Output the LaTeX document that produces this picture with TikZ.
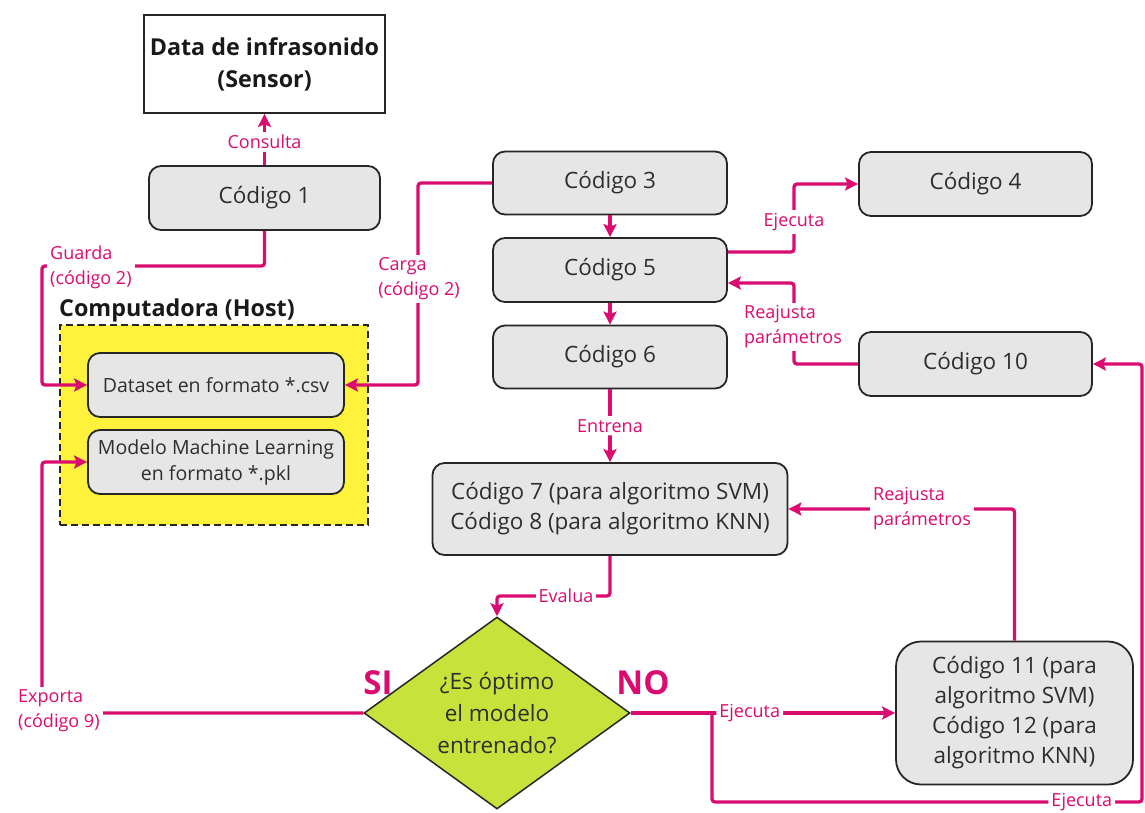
\documentclass[tikz,border=0pt]{standalone}
\usepackage{fontspec}
\setmainfont{Open Sans}
\usetikzlibrary{shapes.geometric,arrows.meta,calc}
\definecolor{mag}{RGB}{218,12,112}
\definecolor{boxgray}{RGB}{230,230,230}
\definecolor{edge}{RGB}{38,38,38}
\definecolor{hostyellow}{RGB}{255,242,60}
\definecolor{diagreen}{RGB}{200,226,60}
\begin{document}
\begin{tikzpicture}[x=1pt,y=-1pt,
  codebox/.style={draw=edge, line width=1.8pt, fill=boxgray, rounded corners=12pt, align=center, inner sep=0pt, font=\fontsize{22.5}{30}\selectfont, text=black!82},
  smallbox/.style={codebox, font=\fontsize{19.5}{26}\selectfont},
  lbl/.style={fill=white, text=mag, inner sep=3pt, align=left, font=\fontsize{18}{25}\selectfont},
  conn/.style={draw=mag, line width=3.3pt, rounded corners=3pt},
  arr/.style={conn, -{Stealth[length=13pt,width=13pt,inset=2.5pt]}},
  titletext/.style={font=\bfseries\fontsize{23.3}{32}\selectfont, text=black!90, align=center},
  yn/.style={font=\bfseries\fontsize{33}{34}\selectfont, text=mag}
]
\useasboundingbox (0,0) rectangle (1145,812);

% nodes
\node[draw=edge, line width=1.8pt, minimum width=241pt, minimum height=98pt, titletext] (sensor) at (264.5,64) {Data de infrasonido\\(Sensor)};
\node[codebox, minimum width=231pt, minimum height=64pt] (c1) at (264.5,198) {Código 1};
\node[titletext, anchor=west, inner sep=0pt] (hosttitle) at (59,310) {Computadora (Host)};
\node[draw=edge, dash pattern=on 7pt off 4pt, line width=1.5pt, fill=hostyellow, minimum width=308pt, minimum height=200pt, inner sep=0pt] (host) at (214,425) {};
\node[smallbox, minimum width=256pt, minimum height=64pt] (ds) at (216,385) {Dataset en formato *.csv};
\node[smallbox, minimum width=256pt, minimum height=64pt] (ml) at (216,462) {Modelo Machine Learning\\en formato *.pkl};

\node[codebox, minimum width=234pt, minimum height=63pt] (c3) at (610,183) {Código 3};
\node[codebox, minimum width=234pt, minimum height=64pt] (c5) at (610,270) {Código 5};
\node[codebox, minimum width=234pt, minimum height=63pt] (c6) at (610,357) {Código 6};
\node[codebox, minimum width=233pt, minimum height=64pt] (c4) at (975.5,184) {Código 4};
\node[codebox, minimum width=233pt, minimum height=64pt] (c10) at (975.5,364) {Código 10};
\node[codebox, minimum width=355pt, minimum height=92pt] (c78) at (610,509) {Código 7 (para algoritmo SVM)\\Código 8 (para algoritmo KNN)};
\node[codebox, rounded corners=25pt, minimum width=237pt, minimum height=143pt] (c1112) at (1014.5,713) {Código 11 (para\\algoritmo SVM)\\Código 12 (para\\algoritmo KNN)};

\node[diamond, draw=edge, line width=1.5pt, fill=diagreen, minimum width=266pt, minimum height=192pt, inner sep=0pt] (dia) at (497,713) {};
\node[align=center, font=\fontsize{22.5}{32}\selectfont, text=black!82] (diatext) at (dia.center) {¿Es óptimo\\el modelo\\entrenado?};

\node[yn] (si) at (378,683) {SI};
\node[yn] (no) at (643,683) {NO};

% coordinates
\coordinate (gcorner) at (42,266);
\coordinate (cgc) at (418,183);
\coordinate (ej1) at (794,252);
\coordinate (rj1) at (794,364);
\coordinate (ev) at (610,596);
\coordinate (br) at (712,713);
\coordinate (bl) at (712,802);
\coordinate (brr) at (1142,802);
\coordinate (ex) at (42,713);

% connectors
\draw[arr] (c1.north) -- node[lbl, pos=0.45]{Consulta} (sensor.south);
\draw[arr] (c1.south) |- (gcorner) |- (ds.west);
\node[lbl, anchor=west] (lguarda) at (47,267) {Guarda\\(código 2)};

\draw[arr] (c3.west) -- (cgc) |- (ds.east);
\node[lbl] (lcarga) at (419,279) {Carga\\(código 2)};

\draw[arr] (c3) -- (c5);
\draw[arr] (c5) -- (c6);

\draw[arr] ($(c5.east)+(0,-18)$) -- (ej1) |- (c4.west);
\node[lbl] (lej1) at (794,222) {Ejecuta};

\draw[arr] (c10.west) -- (rj1) |- ($(c5.east)+(0,13)$);
\node[lbl] (lrj1) at (793,327) {Reajusta\\parámetros};

\draw[arr] (c6) -- node[lbl]{Entrena} (c78);

\draw[arr] (c78.south) -- (ev) -| (dia.north);
\node[lbl] (lev) at (566,596) {Evalua};

\draw[arr] (c1112.north) |- (c78.east);
\node[lbl] (lrj2) at (922,509) {Reajusta\\parámetros};

\draw[arr] (dia.east) -- node[lbl, pos=0.45]{Ejecuta} (c1112.west);
\draw[arr] (br) -- (bl) -- node[lbl, pos=0.86]{Ejecuta} (brr) |- (c10.east);

\draw[arr] (dia.west) -- (ex) |- (ml.west);
\node[lbl, anchor=west] (lex) at (15,711) {Exporta\\(código 9)};
\end{tikzpicture}
\end{document}
